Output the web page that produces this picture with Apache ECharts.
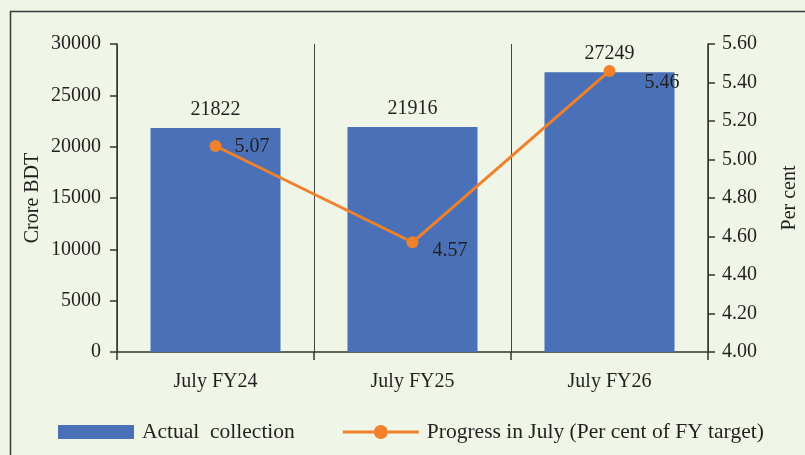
<!DOCTYPE html>
<html lang="en">
<head>
  <meta charset="UTF-8" />
  <title>July collection</title>
  <style>
    html, body { margin: 0; padding: 0; background: #eff5e7 }
    #chart { width: 805px; height: 455px }
  </style>
  <script src="https://cdn.jsdelivr.net/npm/echarts@6/dist/echarts.min.js"></script>
</head>
<body>
  <div id="chart"></div>
  <script>
    // data
    const categories = ['July FY24', 'July FY25', 'July FY26'];
    const collection = [21822, 21916, 27249];
    const progress = [5.07, 4.57, 5.46];
    // label nudges for the line points (they sit a bit differently in the original)
    const progressLabelOffsets = [[5, 1], [6, 8], [21, 12]];

    const font = 'Liberation Serif';
    const fs = 20;
    const ink = '#231f20';
    const orange = '#f08029';

    // legend icon for the line: a line with a dot in the middle (76 x 14 box)
    const lineDotIcon = 'path://M0,5.5H31V8.5H0Z M45,5.5H76V8.5H45Z M31,7A7,7 0 1,1 45,7A7,7 0 1,1 31,7Z';

    const chart = echarts.init(document.getElementById('chart'), null, { renderer: 'canvas' });

    chart.setOption({
      backgroundColor: '#eff5e7',
      textStyle: { fontFamily: font, color: ink },
      animation: false,
      graphic: [{
        type: 'rect',
        shape: { x: 10.5, y: 11.5, width: 820, height: 460 },
        style: { fill: 'none', stroke: '#3a3a3a', lineWidth: 1.5 }
      }],
      grid: { left: 117, right: 97, top: 44, bottom: 103, outerBoundsMode: 'none' },
      legend: {
        left: 53,
        top: 416,
        itemWidth: 76,
        itemHeight: 14,
        itemGap: 48,
        textStyle: { fontFamily: font, fontSize: 21.5, color: ink, padding: [0, 0, 0, 3] },
        data: [
          { name: 'Actual  collection', icon: 'rect' },
          { name: 'Progress in July (Per cent of FY target)', icon: lineDotIcon }
        ]
      },
      xAxis: {
        type: 'category',
        data: categories,
        axisLine: { lineStyle: { color: '#333', width: 1.5 } },
        axisTick: { show: true, length: 8, lineStyle: { color: '#333', width: 1.5 } },
        splitLine: { show: true, lineStyle: { color: '#444', width: 1 } },
        axisLabel: { fontFamily: font, fontSize: fs, color: ink, margin: 20 }
      },
      yAxis: [{
        type: 'value',
        min: 0, max: 30000, interval: 5000,
        name: 'Crore BDT',
        nameLocation: 'middle',
        nameRotate: 90,
        nameGap: 74,
        nameMoveOverlap: false,
        nameTextStyle: { fontFamily: font, fontSize: fs, color: ink },
        axisLine: { show: true, lineStyle: { color: '#333', width: 1.5 } },
        axisTick: { show: true, length: 7, lineStyle: { color: '#333', width: 1.5 } },
        splitLine: { show: false },
        axisLabel: {
          fontFamily: font, fontSize: fs, color: ink, margin: 16,
          formatter: v => String(v)
        }
      }, {
        type: 'value',
        min: 4, max: 5.6, interval: 0.2,
        name: 'Per cent',
        nameLocation: 'middle',
        nameRotate: 90,
        nameGap: 72,
        nameMoveOverlap: false,
        nameTextStyle: { fontFamily: font, fontSize: fs, color: ink },
        axisLine: { show: true, lineStyle: { color: '#333', width: 1.5 } },
        axisTick: { show: true, length: 7, lineStyle: { color: '#333', width: 1.5 } },
        splitLine: { show: false },
        axisLabel: {
          fontFamily: font, fontSize: fs, color: ink, margin: 14,
          formatter: v => v.toFixed(2)
        }
      }],
      series: [{
        name: 'Actual  collection',
        type: 'bar',
        data: collection,
        barWidth: '66%',
        itemStyle: { color: '#4a71b8' },
        label: {
          show: true, position: 'top', distance: 8,
          fontFamily: font, fontSize: fs, color: ink
        }
      }, {
        name: 'Progress in July (Per cent of FY target)',
        type: 'line',
        yAxisIndex: 1,
        data: progress.map((v, i) => ({ value: v, label: { offset: progressLabelOffsets[i] } })),
        symbol: 'circle',
        symbolSize: 12,
        lineStyle: { color: orange, width: 3 },
        itemStyle: { color: orange },
        label: {
          show: true, position: 'right', distance: 8,
          fontFamily: font, fontSize: fs, color: ink,
          formatter: p => p.value.toFixed(2)
        }
      }]
    });
  </script>
</body>
</html>
